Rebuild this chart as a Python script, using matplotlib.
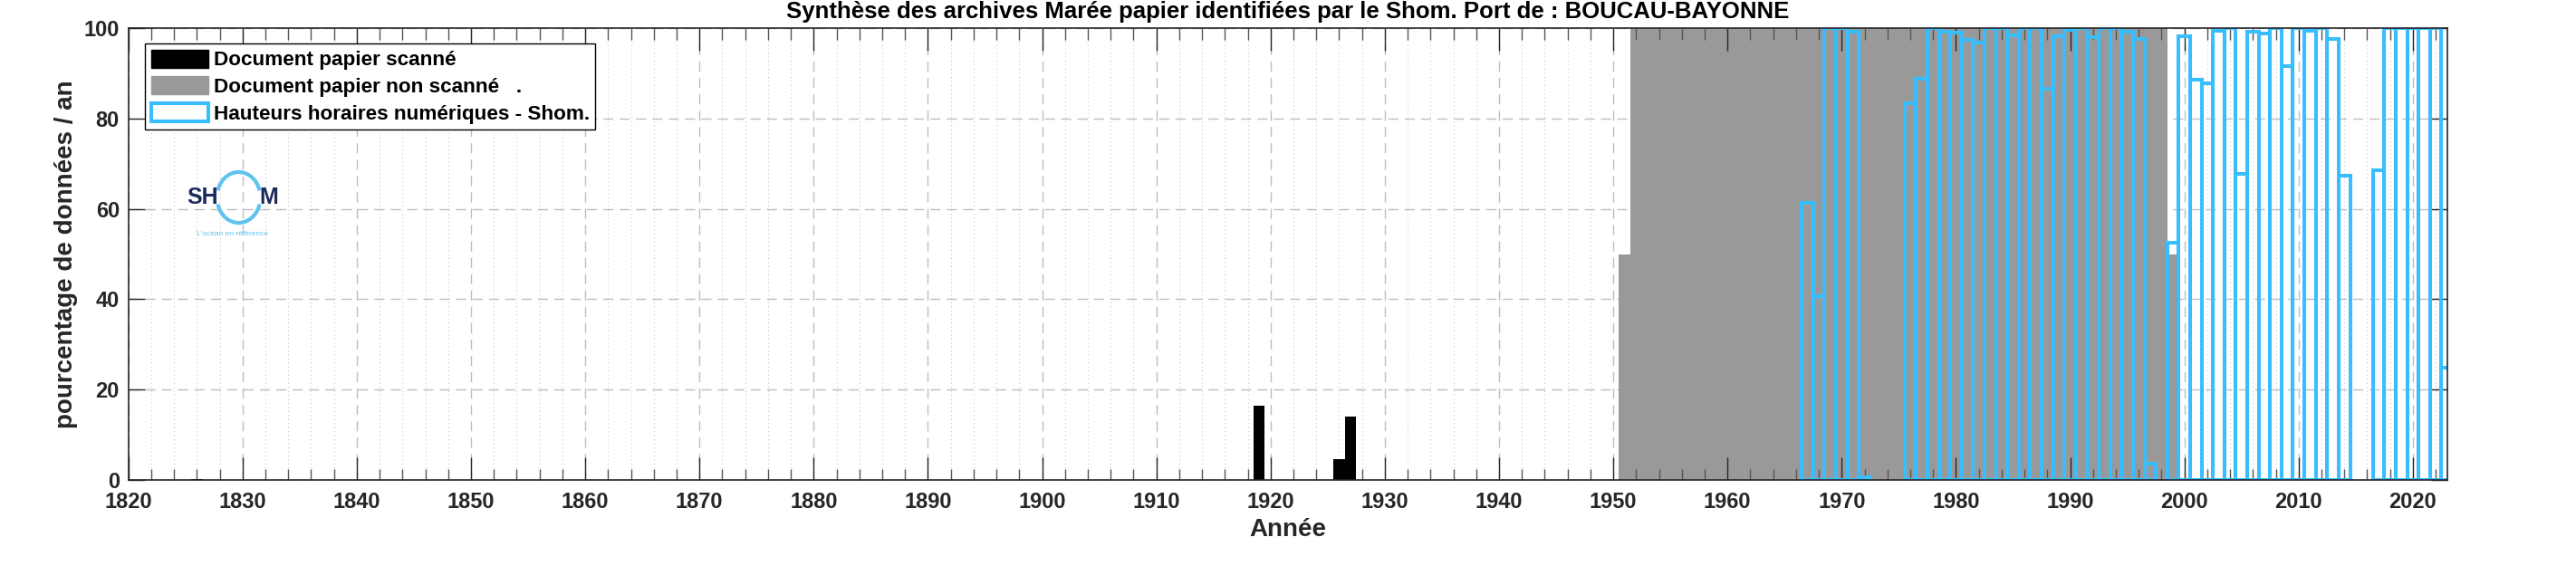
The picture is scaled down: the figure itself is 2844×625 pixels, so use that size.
import numpy as np
import matplotlib
matplotlib.use('Agg')
import matplotlib.pyplot as plt
from matplotlib.patches import Patch, Arc
from matplotlib.ticker import MultipleLocator

plt.rcParams['font.family'] = ['Liberation Sans', 'DejaVu Sans']
plt.rcParams['font.weight'] = 'bold'

# documents papier scannés (noir)
years_scan = [1826, 1919, 1926, 1927]
pct_scan = [0.3, 16.4, 4.6, 14.0]

# documents papier non scannés (gris)
years_nonscan = [1951, 1952, 1953, 1954, 1955, 1956, 1957, 1958, 1959, 1960,
                 1961, 1962, 1963, 1964, 1965, 1966, 1967, 1968, 1969, 1970,
                 1971, 1972, 1973, 1974, 1975, 1976, 1977, 1978, 1979, 1980,
                 1981, 1982, 1983, 1984, 1985, 1986, 1987, 1988, 1989, 1990,
                 1991, 1992, 1993, 1994, 1995, 1996, 1997, 1998, 1999]
pct_nonscan = [50, 100, 100, 100, 100, 100, 100, 100, 100, 100,
               100, 100, 100, 100, 100, 100, 100, 100, 100, 100,
               100, 100, 100, 100, 100, 100, 100, 100, 100, 100,
               100, 100, 100, 100, 100, 100, 100, 100, 100, 100,
               100, 100, 100, 100, 100, 100, 100, 100, 50]

# hauteurs horaires numeriques (contour bleu)
years_num = [1967, 1968, 1969, 1970, 1971, 1972,
             1976, 1977, 1978, 1979, 1980, 1981, 1982, 1983, 1984, 1985,
             1986, 1987, 1988, 1989, 1990, 1991, 1992, 1993, 1994, 1995,
             1996, 1997, 1999, 2000, 2001, 2002, 2003, 2004, 2005, 2006,
             2007, 2008, 2009, 2010, 2011, 2012, 2013, 2014,
             2017, 2018, 2019, 2020, 2021, 2022, 2023]
pct_num = [61.3, 40.7, 100, 100, 99.1, 0.7,
           83.3, 88.7, 100, 99.1, 98.9, 97.4, 96.7, 100, 100, 98.3,
           100, 100, 86.6, 98.1, 99.6, 100, 97.9, 100, 100, 99.1,
           97.5, 3.7, 52.6, 98.1, 88.5, 87.7, 99.4, 100, 67.8, 99.2,
           98.7, 100, 91.6, 100, 99.4, 100, 97.5, 67.3,
           68.5, 100, 100, 100, 100, 100, 24.8]

port = 'BOUCAU-BAYONNE'
blue = '#38BDFF'
gray = '#999999'
axcol = '#262626'

W, H = 2844, 625
fig = plt.figure(figsize=(W / 100, H / 100), dpi=100)
ax = fig.add_axes([141.7 / W, (H - 530) / H, 2560 / W, 499 / H])

ax.bar(years_nonscan, pct_nonscan, width=1.0, color=gray, edgecolor='none', zorder=1)
ax.bar(years_scan, pct_scan, width=1.0, color='black', edgecolor='none', zorder=2)
ax.bar(years_num, pct_num, width=1.0, facecolor='none', edgecolor=blue,
       linewidth=2.9, zorder=3)

ax.set_xlim(1820, 2023)
ax.set_ylim(0, 100)
ax.xaxis.set_major_locator(MultipleLocator(10))
ax.xaxis.set_minor_locator(MultipleLocator(2))
ax.yaxis.set_major_locator(MultipleLocator(20))

# grille sous les barres, graduations au-dessus
gkw = dict(color='#bdbdbd', linewidth=1.0, zorder=0.5)
ax.vlines(ax.xaxis.get_majorticklocs(), 0, 100, linestyles=(0, (8, 5)), **gkw)
ax.vlines(ax.xaxis.get_minorticklocs(), 0, 100, linestyles=(0, (1, 3)),
          color='#c8c8c8', linewidth=0.8, zorder=0.5)
ax.hlines(ax.yaxis.get_majorticklocs()[1:-1], 1820, 2023,
          linestyles=(0, (8, 5)), **gkw)

ax.tick_params(axis='x', which='major', direction='in', length=18, width=1.0,
               top=True, labelsize=17, pad=9.5, colors=axcol)
ax.tick_params(axis='x', which='minor', direction='in', length=9, width=1.0,
               top=True, color='#555555')
ax.tick_params(axis='y', which='major', direction='in', length=13, width=1.0,
               right=True, labelsize=17, pad=7, colors=axcol)
for s in ax.spines.values():
    s.set_color(axcol)
    s.set_linewidth(1.2)
    s.set_zorder(5)

ax.set_xlabel('Année', fontsize=20, fontweight='bold', color=axcol, labelpad=4)
ax.set_ylabel('pourcentage de données / an', fontsize=20, fontweight='bold',
              color=axcol, labelpad=5)
ax.set_title('Synthèse des archives Marée papier identifiées par le Shom. Port de : ' + port,
             fontsize=18.5, fontweight='bold', pad=8)

handles = [Patch(facecolor='black', edgecolor='black'),
           Patch(facecolor=gray, edgecolor=gray),
           Patch(facecolor='white', edgecolor=blue, linewidth=2.9)]
labels = ['Document papier scanné', 'Document papier non scanné   .',
          'Hauteurs horaires numériques - Shom.']
leg = ax.legend(handles, labels, loc='upper left', bbox_to_anchor=(0.0072, 0.966),
                fontsize=16.2, frameon=True, fancybox=False, edgecolor='black',
                framealpha=1, handlelength=2.8, handleheight=1.0,
                handletextpad=0.25, labelspacing=0.3, borderpad=0.3,
                borderaxespad=0)
leg.get_frame().set_linewidth(1.0)
leg.set_zorder(6)
for t in leg.get_texts():
    t.set_fontweight('bold')

# logo Shom
lg = fig.add_axes([200 / W, (H - 268) / H, 115 / W, 83 / H])
lg.set_xlim(0, 115)
lg.set_ylim(0, 83)
lg.axis('off')
navy = '#1c2b5a'
lblue = '#5ec3ee'
lg.text(41, 50, 'SH', ha='right', va='center', fontsize=18, fontweight='bold', color=navy)
lg.text(86, 50, 'M', ha='left', va='center', fontsize=18, fontweight='bold', color=navy)
lg.add_patch(Arc((63.5, 50), 48, 56, theta1=18, theta2=162, color=lblue, linewidth=3))
lg.add_patch(Arc((63.5, 50), 48, 56, theta1=198, theta2=342, color=lblue, linewidth=3))
lg.text(56.5, 10, "L'océan en référence", ha='center', va='center', fontsize=6,
        fontweight='normal', color=lblue)

fig.savefig('out.png', dpi=100)
